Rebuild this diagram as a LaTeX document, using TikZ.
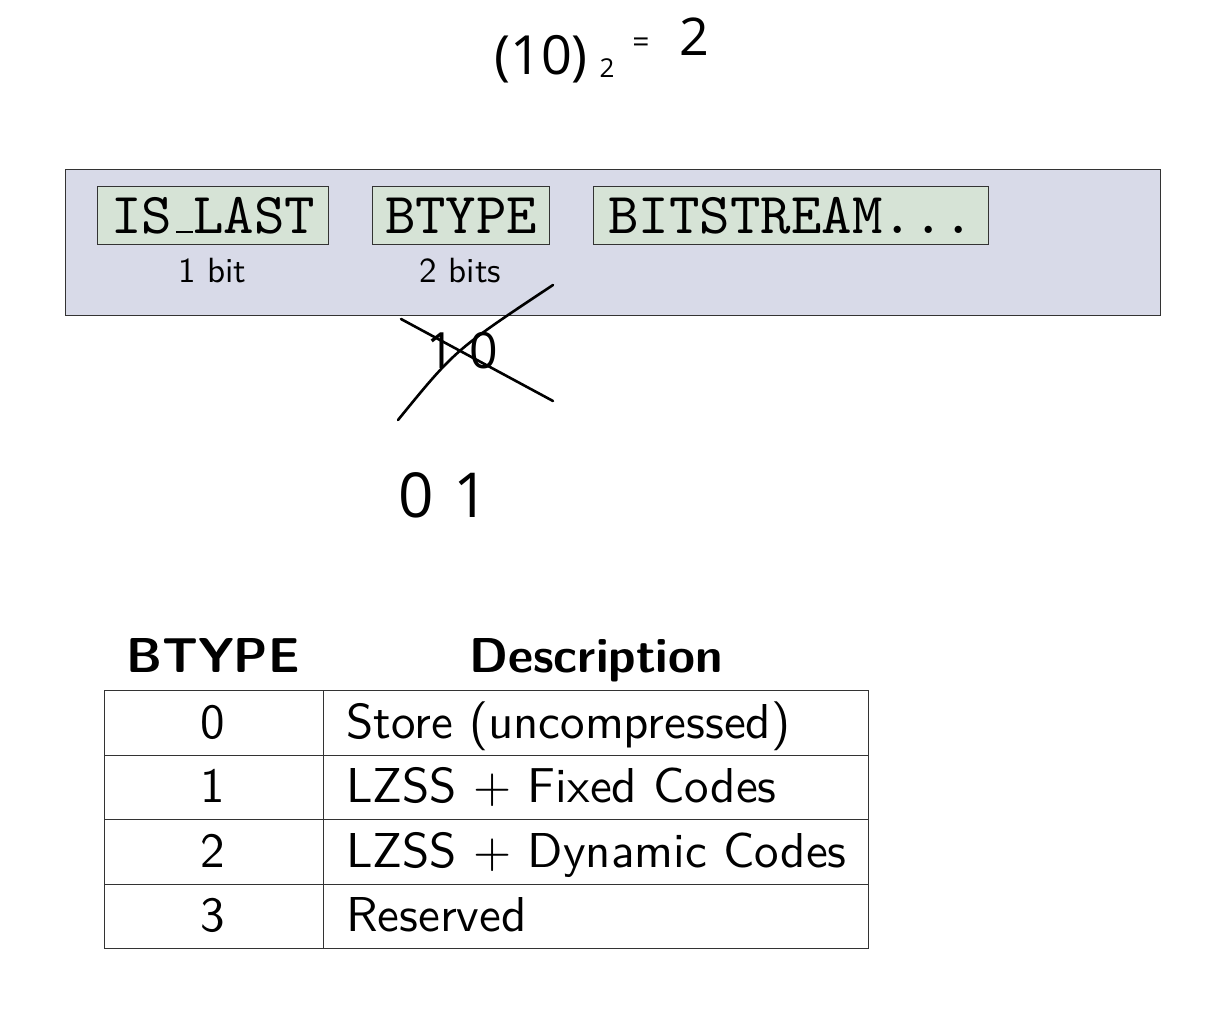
\documentclass[tikz,border=0pt]{standalone}
\usepackage{fontspec}
\setsansfont{lmsans10-regular.otf}[BoldFont=lmsans10-bold.otf]
\setmonofont{lmmono10-regular.otf}
\newfontfamily\hand{Open Sans}
\newcommand{\ttunder}{\leavevmode\kern.06em\vbox{\hrule width .3em height .045em}}
\definecolor{framefill}{HTML}{D8DAE8}
\definecolor{fieldfill}{HTML}{D6E3D6}
\definecolor{edge}{HTML}{333333}
\tikzset{
  framebox/.style={draw=edge, line width=1.4pt, fill=framefill, inner sep=0pt, anchor=north west},
  fieldbox/.style={draw=edge, line width=1.4pt, fill=fieldfill, inner sep=0pt, anchor=north west,
    minimum height=58pt, font=\ttfamily\fontsize{58}{60}\selectfont, text height=35pt, text depth=0pt},
  sizelabel/.style={anchor=base, inner sep=0pt, font=\sffamily\fontsize{35}{38}\selectfont},
  headlabel/.style={anchor=base, inner sep=0pt, font=\sffamily\bfseries\fontsize{49}{52}\selectfont},
  cell/.style={draw=edge, line width=1.4pt, inner sep=0pt, anchor=north west, minimum height=64.5pt},
  celltext/.style={inner sep=0pt, font=\sffamily\fontsize{49}{51}\selectfont},
  handtext/.style={inner sep=0pt, font=\hand},
  stroke/.style={line width=2.6pt, line cap=round, black},
}
\begin{document}
\begin{tikzpicture}[x=1pt, y=-1pt]
\useasboundingbox (0,0) rectangle (1210,1018);

% handwritten equation at top
\node[handtext, anchor=base, font=\hand\fontsize{54}{54}\selectfont] (eqa) at (541,74) {(10)};
\node[handtext, anchor=base, font=\hand\fontsize{26}{26}\selectfont] (eqb) at (607,77) {2};
\node[handtext, anchor=center, font=\hand\fontsize{30}{30}\selectfont] (eqc) at (641,45) {=};
\node[handtext, anchor=base, font=\hand\fontsize{52}{52}\selectfont] (eqd) at (694,55) {2};

% frame
\node[framebox, minimum width=1095pt, minimum height=146pt] (frame) at (65,169) {};
\node[fieldbox, minimum width=231pt] (islast) at (97,186) {IS\ttunder LAST};
\node[fieldbox, minimum width=177pt] (btype) at (372,186) {BTYPE};
\node[fieldbox, minimum width=395pt] (bits) at (593,186) {BITSTREAM...};
\node[sizelabel] (islastsize) at (212.5,282) {1 bit};
\node[sizelabel] (btypesize) at (460.5,282) {2 bits};

% crossed-out 10 and the correction 0 1
\node[handtext, anchor=base, font=\hand\fontsize{50}{50}\selectfont] (old) at (462,368) {1\hspace{14pt}0};
\draw[stroke] (398,420) .. controls (455,350) .. (553,285);
\draw[stroke] (401,319) -- (553,401);
\node[handtext, anchor=base west, font=\hand\fontsize{62}{62}\selectfont] (new) at (398,517) {0\hspace{20pt}1};

% table
\node[headlabel] (hbtype) at (213,672) {BTYPE};
\node[headlabel] (hdesc) at (596,672) {Description};
\foreach \i/\num/\desc in {0/0/Store (uncompressed), 1/1/LZSS + Fixed Codes, 2/2/LZSS + Dynamic Codes, 3/3/Reserved}{
  \node[cell, minimum width=219pt] (n\i) at (104,690+64.5*\i) {};
  \node[cell, minimum width=545pt] (d\i) at (323,690+64.5*\i) {};
  \node[celltext, anchor=base] (nt\i) at (213,738+64.5*\i) {\num};
  \node[celltext, anchor=base west] (dt\i) at (346,738+64.5*\i) {\desc};
}
\end{tikzpicture}
\end{document}
